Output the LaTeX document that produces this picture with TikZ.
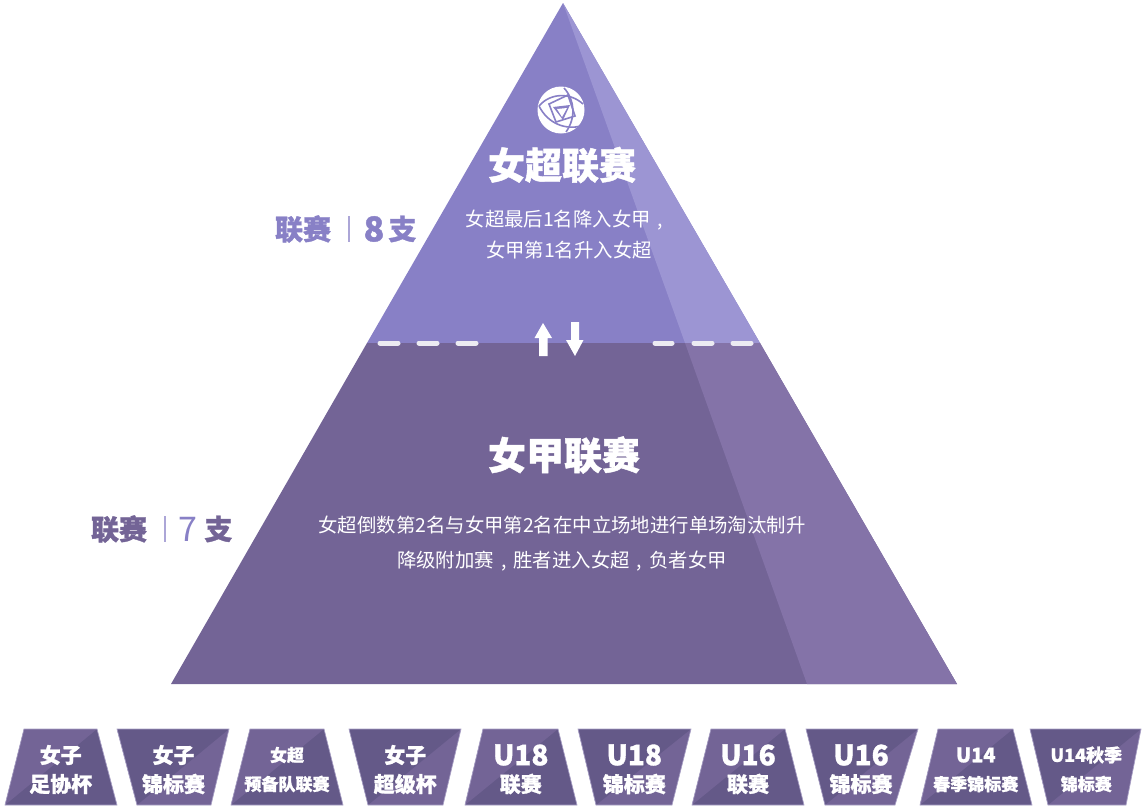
\documentclass[tikz,border=0pt]{standalone}
\usepackage{fontspec}
\setmainfont{Noto Sans CJK SC}[BoldFeatures={FakeBold=1.2}]
\usetikzlibrary{positioning}
\definecolor{topFace}{HTML}{8880C6}
\definecolor{topSide}{HTML}{9C95D3}
\definecolor{lowFace}{HTML}{736496}
\definecolor{lowSide}{HTML}{8473A8}
\definecolor{tagDark}{HTML}{645988}
\definecolor{tagLine}{HTML}{A79EC4}
\definecolor{dashFill}{HTML}{ECEBF2}
\newcommand{\fsize}[1]{\fontsize{#1}{#1}\selectfont}
\newcommand{\wcomma}{\makebox[1em]{,}}
\tikzset{
    title/.style={text=white, font=\fsize{37}\bfseries, inner sep=0pt},
    body/.style={text=white, font=\fsize{19.4}, inner sep=0pt},
    side/.style={font=\fsize{28}\bfseries, inner sep=0pt},
    tag/.style={text=white, font=\fsize{#1}\bfseries, inner sep=0pt},
    dashline/.style={draw=dashFill, line width=5pt, line cap=round},
}
\begin{document}
\begin{tikzpicture}[x=1pt, y=-1pt]
\useasboundingbox (0,0) rectangle (1146,809);

\fill[topFace] (563,3) -- (367,343) -- (760,343) -- cycle;
\fill[topSide] (563,3) -- (685,343) -- (760,343) -- cycle;
\fill[lowFace] (367,343) -- (171,684) -- (957,684) -- (760,343) -- cycle;
\fill[lowSide] (685,343) -- (807,684) -- (957,684) -- (760,343) -- cycle;

% logo
\fill[white] (561,110) circle (23.5);
\begin{scope}[topFace, line width=1.6pt]
\draw (539,106) .. controls (550,93) and (570,92) .. (583,104);
\draw (539,106) .. controls (548,124) and (566,130) .. (581,126);
\draw (564,88) .. controls (575,100) and (576,118) .. (566,132);
\draw (549,104) -- (568,95) -- (575,116) -- (556,122) -- cycle;
\fill (553,107) -- (570,105) -- (563,120) -- cycle;
\end{scope}
\fill[white] (557,109) -- (567,108) -- (562,117) -- cycle;

\node[title] (topTitle) at (562,165) {女超联赛};
\node[body] (topLineA) at (568,220) {女超最后1名降入女甲\wcomma};
\node[body] (topLineB) at (569,250) {女甲第1名升入女超};

\node[title, font=\fsize{38}\bfseries] (lowTitle) at (564,455) {女甲联赛};
\node[body] (lowLineA) at (562,525) {女超倒数第2名与女甲第2名在中立场地进行单场淘汰制升};
\node[body] (lowLineB) at (562,561) {降级附加赛\wcomma 胜者进入女超\wcomma 负者女甲};

% promotion line
\foreach \xa/\xb in {380/398, 419/437, 458/476, 655/672, 694/712, 733/751}
    \draw[dashline] (\xa,343) -- (\xb,343);
\fill[white] (543,323) -- (552,338) -- (547.5,338) -- (547.5,356) -- (539,356) -- (539,338) -- (534.5,338) -- cycle;
\fill[white] (575,356) -- (566,340) -- (571,340) -- (571,322) -- (579,322) -- (579,340) -- (583.5,340) -- cycle;

% side labels
\node[side, text=topFace] (sideTopA) at (303,229) {联赛};
\fill[topFace!70!white] (348.2,216) rectangle (349.8,242);
\node[side, font=\fsize{34}\bfseries, text=topFace] (sideTopB) at (374,229) {8};
\node[side, text=topFace] (sideTopC) at (402.5,229) {支};

\node[side, text=lowFace] (sideLowA) at (119,529) {联赛};
\fill[topFace!70!white] (164.2,516) rectangle (165.8,542);
\node[side, font=\fsize{34}, text=topFace] (sideLowB) at (188,529) {7};
\node[side, text=lowFace] (sideLowC) at (218.5,529) {支};

% bottom tags
\foreach \tl/\tr/\br/\bl/\first/\second/\high/\low/\sa/\sb/\n in {
    24/97/117/5/lowFace/tagDark/女子/足协杯/21/21/a,
    117/229/211/137/tagDark/lowFace/女子/锦标赛/21/21/b,
    250/324/343/231/lowFace/tagDark/女超/预备队联赛/17/17/c,
    349/461/443/368/tagDark/lowFace/女子/超级杯/21/21/d,
    483/558/577/465/lowFace/tagDark/U18/联赛/28/21/e,
    578/691/672/596/tagDark/lowFace/U18/锦标赛/28/21/f,
    711/785/804/692/lowFace/tagDark/U16/联赛/28/21/g,
    806/918/895/825/tagDark/lowFace/U16/锦标赛/28/21/h,
    938/1013/1032/920/lowFace/tagDark/U14/春季锦标赛/20/17/i,
    1030/1141/1126/1048/tagDark/lowFace/U14秋季/锦标赛/18/17/j}{
    \fill[\second] (\tl,729) -- (\tr,729) -- (\br,805) -- (\bl,805) -- cycle;
    \fill[\first] (\tl,729) -- (\tr,729) -- (\bl,805) -- cycle;
    \draw[tagLine, line width=0.7pt] (\tl,729) -- (\tr,729) -- (\br,805) -- (\bl,805) -- cycle;
    \pgfmathsetmacro{\mid}{(\tl+\tr+\br+\bl)/4}
    \node[tag=\sa] (tag\n A) at (\mid,755) {\high};
    \node[tag=\sb] (tag\n B) at (\mid,784) {\low};
}
\end{tikzpicture}
\end{document}
